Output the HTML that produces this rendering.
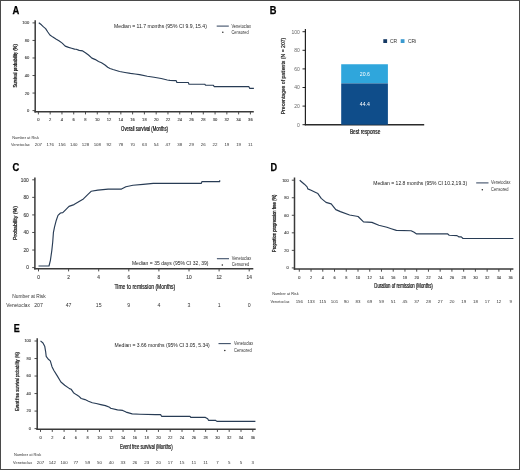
<!DOCTYPE html>
<html><head><meta charset="utf-8"><title>Venetoclax outcomes</title>
<style>
html,body{margin:0;padding:0;background:#fff;}
body{width:520px;height:470px;overflow:hidden;}
svg{display:block;font-family:"Liberation Sans", sans-serif;filter:blur(0.4px);}
</style></head>
<body>
<svg width="520" height="470" viewBox="0 0 520 470">
<rect x="0" y="0" width="520" height="470" fill="#fff"/>
<line x1="35.20" y1="20.20" x2="35.20" y2="112.45" stroke="#3a3a3a" stroke-width="1.5"/>
<line x1="34.45" y1="111.70" x2="253.80" y2="111.70" stroke="#3a3a3a" stroke-width="1.5"/>
<line x1="32.50" y1="110.60" x2="35.20" y2="110.60" stroke="#3a3a3a" stroke-width="0.9"/>
<text x="29.20" y="112.08" font-size="4.1" fill="#444" text-anchor="end" stroke="#444" stroke-width="0.12">0</text>
<line x1="32.50" y1="93.06" x2="35.20" y2="93.06" stroke="#3a3a3a" stroke-width="0.9"/>
<text x="29.20" y="94.54" font-size="4.1" fill="#444" text-anchor="end" stroke="#444" stroke-width="0.12">20</text>
<line x1="32.50" y1="75.52" x2="35.20" y2="75.52" stroke="#3a3a3a" stroke-width="0.9"/>
<text x="29.20" y="77.00" font-size="4.1" fill="#444" text-anchor="end" stroke="#444" stroke-width="0.12">40</text>
<line x1="32.50" y1="57.98" x2="35.20" y2="57.98" stroke="#3a3a3a" stroke-width="0.9"/>
<text x="29.20" y="59.46" font-size="4.1" fill="#444" text-anchor="end" stroke="#444" stroke-width="0.12">60</text>
<line x1="32.50" y1="40.44" x2="35.20" y2="40.44" stroke="#3a3a3a" stroke-width="0.9"/>
<text x="29.20" y="41.92" font-size="4.1" fill="#444" text-anchor="end" stroke="#444" stroke-width="0.12">80</text>
<line x1="32.50" y1="22.90" x2="35.20" y2="22.90" stroke="#3a3a3a" stroke-width="0.9"/>
<text x="29.20" y="24.38" font-size="4.1" fill="#444" text-anchor="end" stroke="#444" stroke-width="0.12">100</text>
<line x1="38.40" y1="111.70" x2="38.40" y2="114.40" stroke="#3a3a3a" stroke-width="0.9"/>
<text x="38.40" y="121.28" font-size="4.1" fill="#444" text-anchor="middle" stroke="#444" stroke-width="0.12">0</text>
<line x1="50.18" y1="111.70" x2="50.18" y2="114.40" stroke="#3a3a3a" stroke-width="0.9"/>
<text x="50.18" y="121.28" font-size="4.1" fill="#444" text-anchor="middle" stroke="#444" stroke-width="0.12">2</text>
<line x1="61.96" y1="111.70" x2="61.96" y2="114.40" stroke="#3a3a3a" stroke-width="0.9"/>
<text x="61.96" y="121.28" font-size="4.1" fill="#444" text-anchor="middle" stroke="#444" stroke-width="0.12">4</text>
<line x1="73.73" y1="111.70" x2="73.73" y2="114.40" stroke="#3a3a3a" stroke-width="0.9"/>
<text x="73.73" y="121.28" font-size="4.1" fill="#444" text-anchor="middle" stroke="#444" stroke-width="0.12">6</text>
<line x1="85.51" y1="111.70" x2="85.51" y2="114.40" stroke="#3a3a3a" stroke-width="0.9"/>
<text x="85.51" y="121.28" font-size="4.1" fill="#444" text-anchor="middle" stroke="#444" stroke-width="0.12">8</text>
<line x1="97.29" y1="111.70" x2="97.29" y2="114.40" stroke="#3a3a3a" stroke-width="0.9"/>
<text x="97.29" y="121.28" font-size="4.1" fill="#444" text-anchor="middle" stroke="#444" stroke-width="0.12">10</text>
<line x1="109.07" y1="111.70" x2="109.07" y2="114.40" stroke="#3a3a3a" stroke-width="0.9"/>
<text x="109.07" y="121.28" font-size="4.1" fill="#444" text-anchor="middle" stroke="#444" stroke-width="0.12">12</text>
<line x1="120.85" y1="111.70" x2="120.85" y2="114.40" stroke="#3a3a3a" stroke-width="0.9"/>
<text x="120.85" y="121.28" font-size="4.1" fill="#444" text-anchor="middle" stroke="#444" stroke-width="0.12">14</text>
<line x1="132.62" y1="111.70" x2="132.62" y2="114.40" stroke="#3a3a3a" stroke-width="0.9"/>
<text x="132.62" y="121.28" font-size="4.1" fill="#444" text-anchor="middle" stroke="#444" stroke-width="0.12">16</text>
<line x1="144.40" y1="111.70" x2="144.40" y2="114.40" stroke="#3a3a3a" stroke-width="0.9"/>
<text x="144.40" y="121.28" font-size="4.1" fill="#444" text-anchor="middle" stroke="#444" stroke-width="0.12">18</text>
<line x1="156.18" y1="111.70" x2="156.18" y2="114.40" stroke="#3a3a3a" stroke-width="0.9"/>
<text x="156.18" y="121.28" font-size="4.1" fill="#444" text-anchor="middle" stroke="#444" stroke-width="0.12">20</text>
<line x1="167.96" y1="111.70" x2="167.96" y2="114.40" stroke="#3a3a3a" stroke-width="0.9"/>
<text x="167.96" y="121.28" font-size="4.1" fill="#444" text-anchor="middle" stroke="#444" stroke-width="0.12">22</text>
<line x1="179.74" y1="111.70" x2="179.74" y2="114.40" stroke="#3a3a3a" stroke-width="0.9"/>
<text x="179.74" y="121.28" font-size="4.1" fill="#444" text-anchor="middle" stroke="#444" stroke-width="0.12">24</text>
<line x1="191.51" y1="111.70" x2="191.51" y2="114.40" stroke="#3a3a3a" stroke-width="0.9"/>
<text x="191.51" y="121.28" font-size="4.1" fill="#444" text-anchor="middle" stroke="#444" stroke-width="0.12">26</text>
<line x1="203.29" y1="111.70" x2="203.29" y2="114.40" stroke="#3a3a3a" stroke-width="0.9"/>
<text x="203.29" y="121.28" font-size="4.1" fill="#444" text-anchor="middle" stroke="#444" stroke-width="0.12">28</text>
<line x1="215.07" y1="111.70" x2="215.07" y2="114.40" stroke="#3a3a3a" stroke-width="0.9"/>
<text x="215.07" y="121.28" font-size="4.1" fill="#444" text-anchor="middle" stroke="#444" stroke-width="0.12">30</text>
<line x1="226.85" y1="111.70" x2="226.85" y2="114.40" stroke="#3a3a3a" stroke-width="0.9"/>
<text x="226.85" y="121.28" font-size="4.1" fill="#444" text-anchor="middle" stroke="#444" stroke-width="0.12">32</text>
<line x1="238.63" y1="111.70" x2="238.63" y2="114.40" stroke="#3a3a3a" stroke-width="0.9"/>
<text x="238.63" y="121.28" font-size="4.1" fill="#444" text-anchor="middle" stroke="#444" stroke-width="0.12">34</text>
<line x1="250.40" y1="111.70" x2="250.40" y2="114.40" stroke="#3a3a3a" stroke-width="0.9"/>
<text x="250.40" y="121.28" font-size="4.1" fill="#444" text-anchor="middle" stroke="#444" stroke-width="0.12">36</text>
<path d="M38.80,22.70 L41.40,24.80 L43.50,26.90 L45.60,28.60 L47.80,32.00 L49.90,35.00 L52.90,37.10 L56.30,39.30 L59.30,41.00 L62.20,43.10 L65.20,46.10 L68.60,47.40 L71.60,48.20 L74.60,49.10 L76.20,49.20 L79.20,50.40 L82.70,50.90 L85.40,52.70 L88.50,55.00 L91.90,58.10 L95.40,59.60 L98.50,61.50 L101.50,62.70 L105.00,65.00 L107.70,67.30 L110.00,68.50 L113.00,69.50 L119.60,71.50 L125.00,72.50 L130.40,73.40 L135.00,74.00 L139.60,74.60 L147.30,76.20 L154.00,77.30 L161.20,78.50 L167.30,80.00 L170.00,80.40 L175.20,80.60 L176.20,80.60 L176.90,82.50 L188.30,82.50 L189.00,84.20 L204.70,84.20 L205.50,85.20 L213.40,85.20 L214.10,86.60 L248.90,86.60 L249.60,88.30 L253.90,88.30" fill="none" stroke="#283c55" stroke-width="1.15" stroke-linejoin="round" stroke-linecap="butt"/>
<text x="121.10" y="130.90" font-size="6.4" fill="#1a1a1a" textLength="46.9" lengthAdjust="spacingAndGlyphs" stroke="#1a1a1a" stroke-width="0.24">Overall survival (Months)</text>
<text x="0" y="0" font-size="5.0" fill="#1a1a1a" text-anchor="middle" transform="translate(16.70,65.90) rotate(-90)" textLength="43.4" lengthAdjust="spacingAndGlyphs" stroke="#1a1a1a" stroke-width="0.24">Survival probability (%)</text>
<text x="12.40" y="13.50" font-size="10.4" fill="#000" font-weight="bold" textLength="6.8" lengthAdjust="spacingAndGlyphs" stroke="#000" stroke-width="0.25">A</text>
<text x="114.10" y="28.26" font-size="4.6" fill="#222" textLength="92.8" lengthAdjust="spacingAndGlyphs">Median = 11.7 months (95% CI 9.9, 15.4)</text>
<line x1="216.70" y1="26.10" x2="228.80" y2="26.10" stroke="#3f5068" stroke-width="1.1"/>
<text x="231.40" y="27.62" font-size="4.5" fill="#333" textLength="19.6" lengthAdjust="spacingAndGlyphs">Venetoclax</text>
<circle cx="222.8" cy="32.3" r="0.75" fill="#222"/>
<text x="231.40" y="33.72" font-size="4.5" fill="#333" textLength="17.2" lengthAdjust="spacingAndGlyphs">Censored</text>
<text x="12.20" y="138.90" font-size="3.9" fill="#333" textLength="26.8" lengthAdjust="spacingAndGlyphs">Number at Risk</text>
<text x="11.00" y="146.20" font-size="3.9" fill="#333" textLength="18.8" lengthAdjust="spacingAndGlyphs">Venetoclax</text>
<text x="38.40" y="146.38" font-size="4.4" fill="#333" text-anchor="middle">207</text>
<text x="50.18" y="146.38" font-size="4.4" fill="#333" text-anchor="middle">176</text>
<text x="61.96" y="146.38" font-size="4.4" fill="#333" text-anchor="middle">156</text>
<text x="73.73" y="146.38" font-size="4.4" fill="#333" text-anchor="middle">140</text>
<text x="85.51" y="146.38" font-size="4.4" fill="#333" text-anchor="middle">128</text>
<text x="97.29" y="146.38" font-size="4.4" fill="#333" text-anchor="middle">108</text>
<text x="109.07" y="146.38" font-size="4.4" fill="#333" text-anchor="middle">92</text>
<text x="120.85" y="146.38" font-size="4.4" fill="#333" text-anchor="middle">78</text>
<text x="132.62" y="146.38" font-size="4.4" fill="#333" text-anchor="middle">70</text>
<text x="144.40" y="146.38" font-size="4.4" fill="#333" text-anchor="middle">63</text>
<text x="156.18" y="146.38" font-size="4.4" fill="#333" text-anchor="middle">54</text>
<text x="167.96" y="146.38" font-size="4.4" fill="#333" text-anchor="middle">47</text>
<text x="179.74" y="146.38" font-size="4.4" fill="#333" text-anchor="middle">38</text>
<text x="191.51" y="146.38" font-size="4.4" fill="#333" text-anchor="middle">29</text>
<text x="203.29" y="146.38" font-size="4.4" fill="#333" text-anchor="middle">26</text>
<text x="215.07" y="146.38" font-size="4.4" fill="#333" text-anchor="middle">22</text>
<text x="226.85" y="146.38" font-size="4.4" fill="#333" text-anchor="middle">19</text>
<text x="238.63" y="146.38" font-size="4.4" fill="#333" text-anchor="middle">19</text>
<text x="250.40" y="146.38" font-size="4.4" fill="#333" text-anchor="middle">11</text>
<line x1="34.90" y1="177.40" x2="34.90" y2="269.45" stroke="#3a3a3a" stroke-width="1.5"/>
<line x1="34.15" y1="268.70" x2="253.30" y2="268.70" stroke="#3a3a3a" stroke-width="1.5"/>
<line x1="32.20" y1="267.60" x2="34.90" y2="267.60" stroke="#3a3a3a" stroke-width="0.9"/>
<text x="28.80" y="269.33" font-size="4.8" fill="#444" text-anchor="end" stroke="#444" stroke-width="0.12">0</text>
<line x1="32.20" y1="250.04" x2="34.90" y2="250.04" stroke="#3a3a3a" stroke-width="0.9"/>
<text x="28.80" y="251.77" font-size="4.8" fill="#444" text-anchor="end" stroke="#444" stroke-width="0.12">20</text>
<line x1="32.20" y1="232.48" x2="34.90" y2="232.48" stroke="#3a3a3a" stroke-width="0.9"/>
<text x="28.80" y="234.21" font-size="4.8" fill="#444" text-anchor="end" stroke="#444" stroke-width="0.12">40</text>
<line x1="32.20" y1="214.92" x2="34.90" y2="214.92" stroke="#3a3a3a" stroke-width="0.9"/>
<text x="28.80" y="216.65" font-size="4.8" fill="#444" text-anchor="end" stroke="#444" stroke-width="0.12">60</text>
<line x1="32.20" y1="197.36" x2="34.90" y2="197.36" stroke="#3a3a3a" stroke-width="0.9"/>
<text x="28.80" y="199.09" font-size="4.8" fill="#444" text-anchor="end" stroke="#444" stroke-width="0.12">80</text>
<line x1="32.20" y1="179.80" x2="34.90" y2="179.80" stroke="#3a3a3a" stroke-width="0.9"/>
<text x="28.80" y="181.53" font-size="4.8" fill="#444" text-anchor="end" stroke="#444" stroke-width="0.12">100</text>
<line x1="38.50" y1="268.70" x2="38.50" y2="271.40" stroke="#3a3a3a" stroke-width="0.9"/>
<text x="38.50" y="278.53" font-size="4.8" fill="#444" text-anchor="middle" stroke="#444" stroke-width="0.12">0</text>
<line x1="68.60" y1="268.70" x2="68.60" y2="271.40" stroke="#3a3a3a" stroke-width="0.9"/>
<text x="68.60" y="278.53" font-size="4.8" fill="#444" text-anchor="middle" stroke="#444" stroke-width="0.12">2</text>
<line x1="98.70" y1="268.70" x2="98.70" y2="271.40" stroke="#3a3a3a" stroke-width="0.9"/>
<text x="98.70" y="278.53" font-size="4.8" fill="#444" text-anchor="middle" stroke="#444" stroke-width="0.12">4</text>
<line x1="128.80" y1="268.70" x2="128.80" y2="271.40" stroke="#3a3a3a" stroke-width="0.9"/>
<text x="128.80" y="278.53" font-size="4.8" fill="#444" text-anchor="middle" stroke="#444" stroke-width="0.12">6</text>
<line x1="158.90" y1="268.70" x2="158.90" y2="271.40" stroke="#3a3a3a" stroke-width="0.9"/>
<text x="158.90" y="278.53" font-size="4.8" fill="#444" text-anchor="middle" stroke="#444" stroke-width="0.12">8</text>
<line x1="189.00" y1="268.70" x2="189.00" y2="271.40" stroke="#3a3a3a" stroke-width="0.9"/>
<text x="189.00" y="278.53" font-size="4.8" fill="#444" text-anchor="middle" stroke="#444" stroke-width="0.12">10</text>
<line x1="219.10" y1="268.70" x2="219.10" y2="271.40" stroke="#3a3a3a" stroke-width="0.9"/>
<text x="219.10" y="278.53" font-size="4.8" fill="#444" text-anchor="middle" stroke="#444" stroke-width="0.12">12</text>
<line x1="249.20" y1="268.70" x2="249.20" y2="271.40" stroke="#3a3a3a" stroke-width="0.9"/>
<text x="249.20" y="278.53" font-size="4.8" fill="#444" text-anchor="middle" stroke="#444" stroke-width="0.12">14</text>
<path d="M38.50,266.00 L49.00,266.00 L50.40,260.30 L51.80,250.60 L52.70,242.30 L53.40,232.70 L54.50,227.10 L56.30,220.20 L58.00,215.40 L60.50,213.00 L62.80,212.60 L66.30,209.10 L69.00,206.40 L74.00,204.60 L79.10,201.50 L83.40,198.90 L87.70,194.70 L91.10,191.30 L97.90,190.10 L108.10,189.10 L121.50,189.10 L125.90,186.70 L133.00,185.30 L143.10,184.40 L153.20,183.40 L201.20,183.40 L202.00,181.60 L219.70,181.60 L219.70,180.20" fill="none" stroke="#283c55" stroke-width="1.15" stroke-linejoin="round" stroke-linecap="butt"/>
<text x="114.40" y="289.08" font-size="8.0" fill="#1a1a1a" textLength="60.9" lengthAdjust="spacingAndGlyphs" stroke="#1a1a1a" stroke-width="0.24">Time to remission (Months)</text>
<text x="0" y="0" font-size="6.0" fill="#1a1a1a" text-anchor="middle" transform="translate(17.06,223.00) rotate(-90)" textLength="33.9" lengthAdjust="spacingAndGlyphs" stroke="#1a1a1a" stroke-width="0.24">Probability (%)</text>
<text x="12.50" y="171.40" font-size="10.4" fill="#000" font-weight="bold" textLength="6.8" lengthAdjust="spacingAndGlyphs" stroke="#000" stroke-width="0.25">C</text>
<text x="131.90" y="265.46" font-size="4.6" fill="#222" textLength="76.6" lengthAdjust="spacingAndGlyphs">Median = 35 days (95% CI 32, 39)</text>
<line x1="216.90" y1="258.70" x2="229.00" y2="258.70" stroke="#3f5068" stroke-width="1.1"/>
<text x="231.70" y="260.22" font-size="4.5" fill="#333" textLength="19.5" lengthAdjust="spacingAndGlyphs">Venetoclax</text>
<circle cx="222.3" cy="265.0" r="0.75" fill="#222"/>
<text x="231.70" y="266.42" font-size="4.5" fill="#333" textLength="17.5" lengthAdjust="spacingAndGlyphs">Censored</text>
<text x="12.30" y="297.95" font-size="4.85" fill="#333" textLength="33.4" lengthAdjust="spacingAndGlyphs">Number at Risk</text>
<text x="6.25" y="306.75" font-size="4.85" fill="#333" textLength="23.6" lengthAdjust="spacingAndGlyphs">Venetoclax</text>
<text x="38.50" y="306.87" font-size="5.2" fill="#333" text-anchor="middle">207</text>
<text x="68.60" y="306.87" font-size="5.2" fill="#333" text-anchor="middle">47</text>
<text x="98.70" y="306.87" font-size="5.2" fill="#333" text-anchor="middle">15</text>
<text x="128.80" y="306.87" font-size="5.2" fill="#333" text-anchor="middle">9</text>
<text x="158.90" y="306.87" font-size="5.2" fill="#333" text-anchor="middle">4</text>
<text x="189.00" y="306.87" font-size="5.2" fill="#333" text-anchor="middle">3</text>
<text x="219.10" y="306.87" font-size="5.2" fill="#333" text-anchor="middle">1</text>
<text x="249.20" y="306.87" font-size="5.2" fill="#333" text-anchor="middle">0</text>
<line x1="294.50" y1="177.50" x2="294.50" y2="269.75" stroke="#3a3a3a" stroke-width="1.5"/>
<line x1="293.75" y1="269.00" x2="513.40" y2="269.00" stroke="#3a3a3a" stroke-width="1.5"/>
<line x1="291.80" y1="267.90" x2="294.50" y2="267.90" stroke="#3a3a3a" stroke-width="0.9"/>
<text x="288.70" y="269.30" font-size="3.9" fill="#444" text-anchor="end" stroke="#444" stroke-width="0.12">0</text>
<line x1="291.80" y1="250.36" x2="294.50" y2="250.36" stroke="#3a3a3a" stroke-width="0.9"/>
<text x="288.70" y="251.76" font-size="3.9" fill="#444" text-anchor="end" stroke="#444" stroke-width="0.12">20</text>
<line x1="291.80" y1="232.82" x2="294.50" y2="232.82" stroke="#3a3a3a" stroke-width="0.9"/>
<text x="288.70" y="234.22" font-size="3.9" fill="#444" text-anchor="end" stroke="#444" stroke-width="0.12">40</text>
<line x1="291.80" y1="215.28" x2="294.50" y2="215.28" stroke="#3a3a3a" stroke-width="0.9"/>
<text x="288.70" y="216.68" font-size="3.9" fill="#444" text-anchor="end" stroke="#444" stroke-width="0.12">60</text>
<line x1="291.80" y1="197.74" x2="294.50" y2="197.74" stroke="#3a3a3a" stroke-width="0.9"/>
<text x="288.70" y="199.14" font-size="3.9" fill="#444" text-anchor="end" stroke="#444" stroke-width="0.12">80</text>
<line x1="291.80" y1="180.20" x2="294.50" y2="180.20" stroke="#3a3a3a" stroke-width="0.9"/>
<text x="288.70" y="181.60" font-size="3.9" fill="#444" text-anchor="end" stroke="#444" stroke-width="0.12">100</text>
<line x1="299.30" y1="269.00" x2="299.30" y2="271.70" stroke="#3a3a3a" stroke-width="0.9"/>
<text x="299.30" y="278.50" font-size="3.9" fill="#444" text-anchor="middle" stroke="#444" stroke-width="0.12">0</text>
<line x1="311.04" y1="269.00" x2="311.04" y2="271.70" stroke="#3a3a3a" stroke-width="0.9"/>
<text x="311.04" y="278.50" font-size="3.9" fill="#444" text-anchor="middle" stroke="#444" stroke-width="0.12">2</text>
<line x1="322.78" y1="269.00" x2="322.78" y2="271.70" stroke="#3a3a3a" stroke-width="0.9"/>
<text x="322.78" y="278.50" font-size="3.9" fill="#444" text-anchor="middle" stroke="#444" stroke-width="0.12">4</text>
<line x1="334.52" y1="269.00" x2="334.52" y2="271.70" stroke="#3a3a3a" stroke-width="0.9"/>
<text x="334.52" y="278.50" font-size="3.9" fill="#444" text-anchor="middle" stroke="#444" stroke-width="0.12">6</text>
<line x1="346.26" y1="269.00" x2="346.26" y2="271.70" stroke="#3a3a3a" stroke-width="0.9"/>
<text x="346.26" y="278.50" font-size="3.9" fill="#444" text-anchor="middle" stroke="#444" stroke-width="0.12">8</text>
<line x1="358.00" y1="269.00" x2="358.00" y2="271.70" stroke="#3a3a3a" stroke-width="0.9"/>
<text x="358.00" y="278.50" font-size="3.9" fill="#444" text-anchor="middle" stroke="#444" stroke-width="0.12">10</text>
<line x1="369.74" y1="269.00" x2="369.74" y2="271.70" stroke="#3a3a3a" stroke-width="0.9"/>
<text x="369.74" y="278.50" font-size="3.9" fill="#444" text-anchor="middle" stroke="#444" stroke-width="0.12">12</text>
<line x1="381.48" y1="269.00" x2="381.48" y2="271.70" stroke="#3a3a3a" stroke-width="0.9"/>
<text x="381.48" y="278.50" font-size="3.9" fill="#444" text-anchor="middle" stroke="#444" stroke-width="0.12">14</text>
<line x1="393.22" y1="269.00" x2="393.22" y2="271.70" stroke="#3a3a3a" stroke-width="0.9"/>
<text x="393.22" y="278.50" font-size="3.9" fill="#444" text-anchor="middle" stroke="#444" stroke-width="0.12">16</text>
<line x1="404.96" y1="269.00" x2="404.96" y2="271.70" stroke="#3a3a3a" stroke-width="0.9"/>
<text x="404.96" y="278.50" font-size="3.9" fill="#444" text-anchor="middle" stroke="#444" stroke-width="0.12">18</text>
<line x1="416.70" y1="269.00" x2="416.70" y2="271.70" stroke="#3a3a3a" stroke-width="0.9"/>
<text x="416.70" y="278.50" font-size="3.9" fill="#444" text-anchor="middle" stroke="#444" stroke-width="0.12">20</text>
<line x1="428.44" y1="269.00" x2="428.44" y2="271.70" stroke="#3a3a3a" stroke-width="0.9"/>
<text x="428.44" y="278.50" font-size="3.9" fill="#444" text-anchor="middle" stroke="#444" stroke-width="0.12">22</text>
<line x1="440.18" y1="269.00" x2="440.18" y2="271.70" stroke="#3a3a3a" stroke-width="0.9"/>
<text x="440.18" y="278.50" font-size="3.9" fill="#444" text-anchor="middle" stroke="#444" stroke-width="0.12">24</text>
<line x1="451.92" y1="269.00" x2="451.92" y2="271.70" stroke="#3a3a3a" stroke-width="0.9"/>
<text x="451.92" y="278.50" font-size="3.9" fill="#444" text-anchor="middle" stroke="#444" stroke-width="0.12">26</text>
<line x1="463.66" y1="269.00" x2="463.66" y2="271.70" stroke="#3a3a3a" stroke-width="0.9"/>
<text x="463.66" y="278.50" font-size="3.9" fill="#444" text-anchor="middle" stroke="#444" stroke-width="0.12">28</text>
<line x1="475.40" y1="269.00" x2="475.40" y2="271.70" stroke="#3a3a3a" stroke-width="0.9"/>
<text x="475.40" y="278.50" font-size="3.9" fill="#444" text-anchor="middle" stroke="#444" stroke-width="0.12">30</text>
<line x1="487.14" y1="269.00" x2="487.14" y2="271.70" stroke="#3a3a3a" stroke-width="0.9"/>
<text x="487.14" y="278.50" font-size="3.9" fill="#444" text-anchor="middle" stroke="#444" stroke-width="0.12">32</text>
<line x1="498.88" y1="269.00" x2="498.88" y2="271.70" stroke="#3a3a3a" stroke-width="0.9"/>
<text x="498.88" y="278.50" font-size="3.9" fill="#444" text-anchor="middle" stroke="#444" stroke-width="0.12">34</text>
<line x1="510.62" y1="269.00" x2="510.62" y2="271.70" stroke="#3a3a3a" stroke-width="0.9"/>
<text x="510.62" y="278.50" font-size="3.9" fill="#444" text-anchor="middle" stroke="#444" stroke-width="0.12">36</text>
<path d="M299.70,180.20 L304.40,184.20 L307.10,186.90 L307.80,188.90 L311.10,190.30 L315.20,192.30 L317.90,193.60 L321.20,198.40 L326.00,202.40 L331.20,203.90 L335.80,209.60 L340.40,211.60 L349.60,215.00 L358.10,216.50 L363.50,221.90 L371.90,222.40 L378.80,225.30 L386.90,227.30 L391.20,228.70 L396.40,230.40 L411.10,230.70 L413.70,232.10 L416.30,233.80 L447.50,233.80 L449.20,235.20 L457.00,235.60 L458.70,236.80 L461.30,236.80 L463.00,238.50 L513.40,238.50" fill="none" stroke="#283c55" stroke-width="1.15" stroke-linejoin="round" stroke-linecap="butt"/>
<text x="374.30" y="288.30" font-size="6.4" fill="#1a1a1a" textLength="58.5" lengthAdjust="spacingAndGlyphs" stroke="#1a1a1a" stroke-width="0.24">Duration of remission (Months)</text>
<text x="0" y="0" font-size="4.9" fill="#1a1a1a" text-anchor="middle" transform="translate(276.06,223.30) rotate(-90)" textLength="57.4" lengthAdjust="spacingAndGlyphs" stroke="#1a1a1a" stroke-width="0.24">Proportion progression free (%)</text>
<text x="270.40" y="170.60" font-size="10.4" fill="#000" font-weight="bold" textLength="6.6" lengthAdjust="spacingAndGlyphs" stroke="#000" stroke-width="0.25">D</text>
<text x="373.30" y="185.46" font-size="4.6" fill="#222" textLength="93.8" lengthAdjust="spacingAndGlyphs">Median = 12.8 months (95% CI 10.2,19.3)</text>
<line x1="476.20" y1="182.90" x2="488.50" y2="182.90" stroke="#3f5068" stroke-width="1.1"/>
<text x="491.10" y="184.42" font-size="4.5" fill="#333" textLength="19.4" lengthAdjust="spacingAndGlyphs">Venetoclax</text>
<circle cx="482.3" cy="189.7" r="0.75" fill="#222"/>
<text x="491.10" y="191.12" font-size="4.5" fill="#333" textLength="17.4" lengthAdjust="spacingAndGlyphs">Censored</text>
<text x="272.20" y="295.39" font-size="3.85" fill="#333" textLength="26.5" lengthAdjust="spacingAndGlyphs">Number at Risk</text>
<text x="270.50" y="303.09" font-size="3.85" fill="#333" textLength="19.0" lengthAdjust="spacingAndGlyphs">Venetoclax</text>
<text x="299.30" y="303.28" font-size="4.4" fill="#333" text-anchor="middle">156</text>
<text x="311.04" y="303.28" font-size="4.4" fill="#333" text-anchor="middle">133</text>
<text x="322.78" y="303.28" font-size="4.4" fill="#333" text-anchor="middle">115</text>
<text x="334.52" y="303.28" font-size="4.4" fill="#333" text-anchor="middle">101</text>
<text x="346.26" y="303.28" font-size="4.4" fill="#333" text-anchor="middle">90</text>
<text x="358.00" y="303.28" font-size="4.4" fill="#333" text-anchor="middle">83</text>
<text x="369.74" y="303.28" font-size="4.4" fill="#333" text-anchor="middle">69</text>
<text x="381.48" y="303.28" font-size="4.4" fill="#333" text-anchor="middle">59</text>
<text x="393.22" y="303.28" font-size="4.4" fill="#333" text-anchor="middle">51</text>
<text x="404.96" y="303.28" font-size="4.4" fill="#333" text-anchor="middle">45</text>
<text x="416.70" y="303.28" font-size="4.4" fill="#333" text-anchor="middle">37</text>
<text x="428.44" y="303.28" font-size="4.4" fill="#333" text-anchor="middle">28</text>
<text x="440.18" y="303.28" font-size="4.4" fill="#333" text-anchor="middle">27</text>
<text x="451.92" y="303.28" font-size="4.4" fill="#333" text-anchor="middle">20</text>
<text x="463.66" y="303.28" font-size="4.4" fill="#333" text-anchor="middle">19</text>
<text x="475.40" y="303.28" font-size="4.4" fill="#333" text-anchor="middle">18</text>
<text x="487.14" y="303.28" font-size="4.4" fill="#333" text-anchor="middle">17</text>
<text x="498.88" y="303.28" font-size="4.4" fill="#333" text-anchor="middle">12</text>
<text x="510.62" y="303.28" font-size="4.4" fill="#333" text-anchor="middle">9</text>
<line x1="37.20" y1="338.30" x2="37.20" y2="429.95" stroke="#3a3a3a" stroke-width="1.5"/>
<line x1="36.45" y1="429.20" x2="255.70" y2="429.20" stroke="#3a3a3a" stroke-width="1.5"/>
<line x1="34.50" y1="428.60" x2="37.20" y2="428.60" stroke="#3a3a3a" stroke-width="0.9"/>
<text x="30.90" y="430.00" font-size="3.9" fill="#444" text-anchor="end" stroke="#444" stroke-width="0.12">0</text>
<line x1="34.50" y1="411.08" x2="37.20" y2="411.08" stroke="#3a3a3a" stroke-width="0.9"/>
<text x="30.90" y="412.48" font-size="3.9" fill="#444" text-anchor="end" stroke="#444" stroke-width="0.12">20</text>
<line x1="34.50" y1="393.56" x2="37.20" y2="393.56" stroke="#3a3a3a" stroke-width="0.9"/>
<text x="30.90" y="394.96" font-size="3.9" fill="#444" text-anchor="end" stroke="#444" stroke-width="0.12">40</text>
<line x1="34.50" y1="376.04" x2="37.20" y2="376.04" stroke="#3a3a3a" stroke-width="0.9"/>
<text x="30.90" y="377.44" font-size="3.9" fill="#444" text-anchor="end" stroke="#444" stroke-width="0.12">60</text>
<line x1="34.50" y1="358.52" x2="37.20" y2="358.52" stroke="#3a3a3a" stroke-width="0.9"/>
<text x="30.90" y="359.92" font-size="3.9" fill="#444" text-anchor="end" stroke="#444" stroke-width="0.12">80</text>
<line x1="34.50" y1="341.00" x2="37.20" y2="341.00" stroke="#3a3a3a" stroke-width="0.9"/>
<text x="30.90" y="342.40" font-size="3.9" fill="#444" text-anchor="end" stroke="#444" stroke-width="0.12">100</text>
<line x1="40.50" y1="429.20" x2="40.50" y2="431.90" stroke="#3a3a3a" stroke-width="0.9"/>
<text x="40.50" y="438.80" font-size="3.9" fill="#444" text-anchor="middle" stroke="#444" stroke-width="0.12">0</text>
<line x1="52.29" y1="429.20" x2="52.29" y2="431.90" stroke="#3a3a3a" stroke-width="0.9"/>
<text x="52.29" y="438.80" font-size="3.9" fill="#444" text-anchor="middle" stroke="#444" stroke-width="0.12">2</text>
<line x1="64.09" y1="429.20" x2="64.09" y2="431.90" stroke="#3a3a3a" stroke-width="0.9"/>
<text x="64.09" y="438.80" font-size="3.9" fill="#444" text-anchor="middle" stroke="#444" stroke-width="0.12">4</text>
<line x1="75.88" y1="429.20" x2="75.88" y2="431.90" stroke="#3a3a3a" stroke-width="0.9"/>
<text x="75.88" y="438.80" font-size="3.9" fill="#444" text-anchor="middle" stroke="#444" stroke-width="0.12">6</text>
<line x1="87.68" y1="429.20" x2="87.68" y2="431.90" stroke="#3a3a3a" stroke-width="0.9"/>
<text x="87.68" y="438.80" font-size="3.9" fill="#444" text-anchor="middle" stroke="#444" stroke-width="0.12">8</text>
<line x1="99.47" y1="429.20" x2="99.47" y2="431.90" stroke="#3a3a3a" stroke-width="0.9"/>
<text x="99.47" y="438.80" font-size="3.9" fill="#444" text-anchor="middle" stroke="#444" stroke-width="0.12">10</text>
<line x1="111.26" y1="429.20" x2="111.26" y2="431.90" stroke="#3a3a3a" stroke-width="0.9"/>
<text x="111.26" y="438.80" font-size="3.9" fill="#444" text-anchor="middle" stroke="#444" stroke-width="0.12">12</text>
<line x1="123.06" y1="429.20" x2="123.06" y2="431.90" stroke="#3a3a3a" stroke-width="0.9"/>
<text x="123.06" y="438.80" font-size="3.9" fill="#444" text-anchor="middle" stroke="#444" stroke-width="0.12">14</text>
<line x1="134.85" y1="429.20" x2="134.85" y2="431.90" stroke="#3a3a3a" stroke-width="0.9"/>
<text x="134.85" y="438.80" font-size="3.9" fill="#444" text-anchor="middle" stroke="#444" stroke-width="0.12">16</text>
<line x1="146.65" y1="429.20" x2="146.65" y2="431.90" stroke="#3a3a3a" stroke-width="0.9"/>
<text x="146.65" y="438.80" font-size="3.9" fill="#444" text-anchor="middle" stroke="#444" stroke-width="0.12">18</text>
<line x1="158.44" y1="429.20" x2="158.44" y2="431.90" stroke="#3a3a3a" stroke-width="0.9"/>
<text x="158.44" y="438.80" font-size="3.9" fill="#444" text-anchor="middle" stroke="#444" stroke-width="0.12">20</text>
<line x1="170.23" y1="429.20" x2="170.23" y2="431.90" stroke="#3a3a3a" stroke-width="0.9"/>
<text x="170.23" y="438.80" font-size="3.9" fill="#444" text-anchor="middle" stroke="#444" stroke-width="0.12">22</text>
<line x1="182.03" y1="429.20" x2="182.03" y2="431.90" stroke="#3a3a3a" stroke-width="0.9"/>
<text x="182.03" y="438.80" font-size="3.9" fill="#444" text-anchor="middle" stroke="#444" stroke-width="0.12">24</text>
<line x1="193.82" y1="429.20" x2="193.82" y2="431.90" stroke="#3a3a3a" stroke-width="0.9"/>
<text x="193.82" y="438.80" font-size="3.9" fill="#444" text-anchor="middle" stroke="#444" stroke-width="0.12">26</text>
<line x1="205.62" y1="429.20" x2="205.62" y2="431.90" stroke="#3a3a3a" stroke-width="0.9"/>
<text x="205.62" y="438.80" font-size="3.9" fill="#444" text-anchor="middle" stroke="#444" stroke-width="0.12">28</text>
<line x1="217.41" y1="429.20" x2="217.41" y2="431.90" stroke="#3a3a3a" stroke-width="0.9"/>
<text x="217.41" y="438.80" font-size="3.9" fill="#444" text-anchor="middle" stroke="#444" stroke-width="0.12">30</text>
<line x1="229.20" y1="429.20" x2="229.20" y2="431.90" stroke="#3a3a3a" stroke-width="0.9"/>
<text x="229.20" y="438.80" font-size="3.9" fill="#444" text-anchor="middle" stroke="#444" stroke-width="0.12">32</text>
<line x1="241.00" y1="429.20" x2="241.00" y2="431.90" stroke="#3a3a3a" stroke-width="0.9"/>
<text x="241.00" y="438.80" font-size="3.9" fill="#444" text-anchor="middle" stroke="#444" stroke-width="0.12">34</text>
<line x1="252.79" y1="429.20" x2="252.79" y2="431.90" stroke="#3a3a3a" stroke-width="0.9"/>
<text x="252.79" y="438.80" font-size="3.9" fill="#444" text-anchor="middle" stroke="#444" stroke-width="0.12">36</text>
<path d="M40.50,340.90 L43.00,343.00 L44.70,346.20 L45.60,351.30 L46.20,356.40 L48.10,359.00 L50.30,360.90 L52.00,366.70 L53.90,370.50 L57.10,375.60 L60.90,382.00 L64.70,385.20 L69.50,388.60 L71.10,389.20 L73.50,392.70 L76.20,394.60 L78.80,396.20 L81.20,398.50 L85.00,399.60 L88.50,401.20 L92.30,402.70 L96.20,403.50 L100.80,404.60 L105.40,405.60 L109.60,407.30 L110.60,408.20 L117.50,409.90 L122.70,410.40 L126.10,412.10 L132.20,413.90 L140.00,414.20 L155.60,414.60 L160.60,414.60 L161.60,416.30 L190.00,416.30 L190.80,417.40 L205.40,417.40 L207.70,418.80 L208.50,420.30 L215.40,420.30 L216.90,421.40 L255.40,421.40" fill="none" stroke="#283c55" stroke-width="1.15" stroke-linejoin="round" stroke-linecap="butt"/>
<text x="120.00" y="448.80" font-size="6.4" fill="#1a1a1a" textLength="52.6" lengthAdjust="spacingAndGlyphs" stroke="#1a1a1a" stroke-width="0.24">Event free survival (Months)</text>
<text x="0" y="0" font-size="5.0" fill="#1a1a1a" text-anchor="middle" transform="translate(19.20,381.50) rotate(-90)" textLength="58.6" lengthAdjust="spacingAndGlyphs" stroke="#1a1a1a" stroke-width="0.24">Event free survival probability (%)</text>
<text x="13.70" y="331.80" font-size="10.4" fill="#000" font-weight="bold" textLength="6.0" lengthAdjust="spacingAndGlyphs" stroke="#000" stroke-width="0.25">E</text>
<text x="114.60" y="346.86" font-size="4.6" fill="#222" textLength="95.1" lengthAdjust="spacingAndGlyphs">Median = 3.66 months (95% CI 3.05, 5.34)</text>
<line x1="218.50" y1="343.60" x2="230.80" y2="343.60" stroke="#3f5068" stroke-width="1.1"/>
<text x="234.00" y="345.12" font-size="4.5" fill="#333" textLength="19.1" lengthAdjust="spacingAndGlyphs">Venetoclax</text>
<circle cx="224.8" cy="350.4" r="0.75" fill="#222"/>
<text x="234.00" y="351.82" font-size="4.5" fill="#333" textLength="17.7" lengthAdjust="spacingAndGlyphs">Censored</text>
<text x="14.00" y="455.92" font-size="3.95" fill="#333" textLength="27.3" lengthAdjust="spacingAndGlyphs">Number at Risk</text>
<text x="13.10" y="463.92" font-size="3.95" fill="#333" textLength="19.0" lengthAdjust="spacingAndGlyphs">Venetoclax</text>
<text x="40.50" y="464.08" font-size="4.4" fill="#333" text-anchor="middle">207</text>
<text x="52.29" y="464.08" font-size="4.4" fill="#333" text-anchor="middle">142</text>
<text x="64.09" y="464.08" font-size="4.4" fill="#333" text-anchor="middle">100</text>
<text x="75.88" y="464.08" font-size="4.4" fill="#333" text-anchor="middle">77</text>
<text x="87.68" y="464.08" font-size="4.4" fill="#333" text-anchor="middle">59</text>
<text x="99.47" y="464.08" font-size="4.4" fill="#333" text-anchor="middle">50</text>
<text x="111.26" y="464.08" font-size="4.4" fill="#333" text-anchor="middle">40</text>
<text x="123.06" y="464.08" font-size="4.4" fill="#333" text-anchor="middle">33</text>
<text x="134.85" y="464.08" font-size="4.4" fill="#333" text-anchor="middle">26</text>
<text x="146.65" y="464.08" font-size="4.4" fill="#333" text-anchor="middle">23</text>
<text x="158.44" y="464.08" font-size="4.4" fill="#333" text-anchor="middle">20</text>
<text x="170.23" y="464.08" font-size="4.4" fill="#333" text-anchor="middle">17</text>
<text x="182.03" y="464.08" font-size="4.4" fill="#333" text-anchor="middle">15</text>
<text x="193.82" y="464.08" font-size="4.4" fill="#333" text-anchor="middle">11</text>
<text x="205.62" y="464.08" font-size="4.4" fill="#333" text-anchor="middle">11</text>
<text x="217.41" y="464.08" font-size="4.4" fill="#333" text-anchor="middle">7</text>
<text x="229.20" y="464.08" font-size="4.4" fill="#333" text-anchor="middle">5</text>
<text x="241.00" y="464.08" font-size="4.4" fill="#333" text-anchor="middle">5</text>
<text x="252.79" y="464.08" font-size="4.4" fill="#333" text-anchor="middle">3</text>
<line x1="305.40" y1="29.10" x2="305.40" y2="125.30" stroke="#222" stroke-width="1.2"/>
<line x1="304.80" y1="124.70" x2="424.20" y2="124.70" stroke="#2a2a2a" stroke-width="1.4"/>
<line x1="302.50" y1="124.70" x2="305.40" y2="124.70" stroke="#111" stroke-width="0.9"/>
<text x="299.90" y="126.50" font-size="5.0" fill="#666" text-anchor="end">0</text>
<line x1="302.50" y1="106.10" x2="305.40" y2="106.10" stroke="#111" stroke-width="0.9"/>
<text x="299.90" y="107.90" font-size="5.0" fill="#666" text-anchor="end">20</text>
<line x1="302.50" y1="87.50" x2="305.40" y2="87.50" stroke="#111" stroke-width="0.9"/>
<text x="299.90" y="89.30" font-size="5.0" fill="#666" text-anchor="end">40</text>
<line x1="302.50" y1="68.90" x2="305.40" y2="68.90" stroke="#111" stroke-width="0.9"/>
<text x="299.90" y="70.70" font-size="5.0" fill="#666" text-anchor="end">60</text>
<line x1="302.50" y1="50.30" x2="305.40" y2="50.30" stroke="#111" stroke-width="0.9"/>
<text x="299.90" y="52.10" font-size="5.0" fill="#666" text-anchor="end">80</text>
<line x1="302.50" y1="31.70" x2="305.40" y2="31.70" stroke="#111" stroke-width="0.9"/>
<text x="299.90" y="33.50" font-size="5.0" fill="#666" text-anchor="end">100</text>
<rect x="341.2" y="64.25" width="46.7" height="19.16" fill="#2fa6dc"/>
<rect x="341.2" y="83.41" width="46.7" height="41.29" fill="#0f4d8a"/>
<text x="364.90" y="75.97" font-size="5.2" fill="#fff" text-anchor="middle">20.6</text>
<text x="364.90" y="105.97" font-size="5.2" fill="#fff" text-anchor="middle">44.4</text>
<rect x="383.3" y="39.2" width="3.8" height="3.8" fill="#163a64"/>
<text x="390.00" y="43.00" font-size="5.0" fill="#333">CR</text>
<rect x="400.7" y="39.2" width="3.8" height="3.8" fill="#3a9ad0"/>
<text x="407.90" y="43.00" font-size="5.0" fill="#333">CRi</text>
<text x="349.90" y="133.88" font-size="6.6" fill="#1a1a1a" textLength="30.4" lengthAdjust="spacingAndGlyphs" stroke="#1a1a1a" stroke-width="0.24">Best response</text>
<text x="0" y="0" font-size="6.0" fill="#1a1a1a" text-anchor="middle" transform="translate(285.16,76.00) rotate(-90)" textLength="76.6" lengthAdjust="spacingAndGlyphs" stroke="#1a1a1a" stroke-width="0.2">Precentages of patients (N = 207)</text>
<text x="269.70" y="13.50" font-size="10.4" fill="#000" font-weight="bold" textLength="6.7" lengthAdjust="spacingAndGlyphs" stroke="#000" stroke-width="0.25">B</text>
<rect x="0.5" y="0.5" width="519" height="469" fill="none" stroke="#4a4a4a" stroke-width="1"/>
</svg>
</body></html>
